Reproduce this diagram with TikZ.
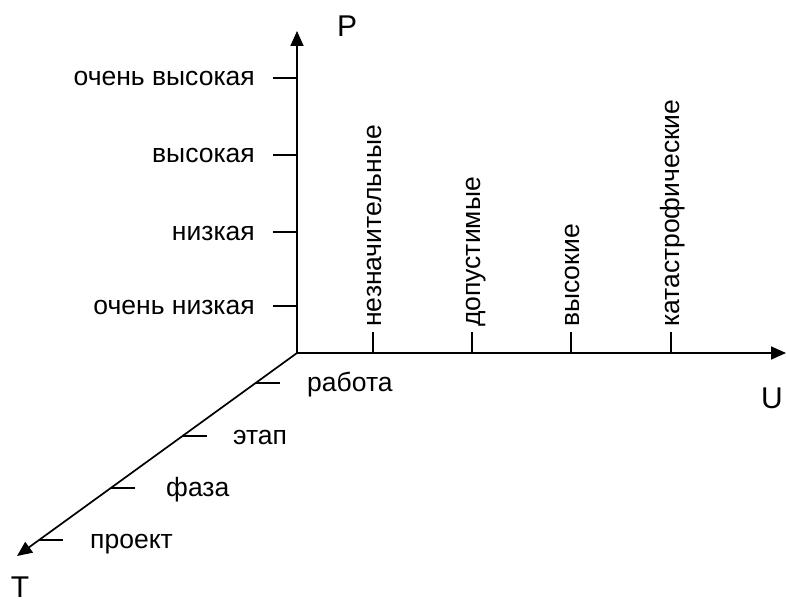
\documentclass[tikz,border=0pt]{standalone}
\usepackage{fontspec}
\setmainfont{Liberation Sans}
\usetikzlibrary{arrows.meta}
\begin{document}
\begin{tikzpicture}[x=1pt,y=-1pt,
  axis/.style={line width=1.7pt,-{Triangle[length=15pt,width=13pt]}},
  tick/.style={line width=1.4pt},
  lbl/.style={font=\fontsize{26.5}{30}\selectfont,inner sep=0pt},
  axlbl/.style={font=\fontsize{30}{34}\selectfont,inner sep=0pt}]
  \useasboundingbox (0,0) rectangle (786,604);
  % origin and axis ends
  \coordinate (O) at (297,353);
  \coordinate (Pend) at (297,31);
  \coordinate (Uend) at (786,353);
  \coordinate (Tend) at (17,556);
  \draw[axis] (O) -- (Pend);
  \draw[axis] (O) -- (Uend);
  \draw[axis] (O) -- (Tend);
  \node[axlbl,anchor=base] (P) at (347,37) {P};
  \node[axlbl,anchor=base] (U) at (772,408) {U};
  \node[axlbl,anchor=base] (T) at (20,597) {T};
  % probability scale
  \foreach \y/\t [count=\i] in {78/очень высокая,155/высокая,232/низкая,306/очень низкая}{
    \coordinate (p\i a) at (273,\y);
    \coordinate (p\i b) at (297,\y);
    \draw[tick] (p\i a) -- (p\i b);
    \node[lbl,anchor=base east] (pl\i) at (255,\y+8) {\t};
  }
  % losses scale
  \foreach \x/\t [count=\i] in {373/незначительные,472/допустимые,571/высокие,671/катастрофические}{
    \coordinate (u\i a) at (\x,353);
    \coordinate (u\i b) at (\x,332);
    \draw[tick] (u\i a) -- (u\i b);
    \node[lbl,rotate=90,anchor=base west] (ul\i) at (\x+8,327) {\t};
  }
  % time scale: ticks start on the T axis and point right
  \foreach \y/\lx/\t [count=\i] in {383/307/работа,436/233/этап,488/166/фаза,540/90/проект}{
    \pgfmathsetmacro{\tx}{297-(\y-353)/203*280}
    \coordinate (t\i a) at (\tx,\y);
    \coordinate (t\i b) at (\tx+24,\y);
    \draw[tick] (t\i a) -- (t\i b);
    \node[lbl,anchor=base west] (tl\i) at (\lx,\y+8) {\t};
  }
\end{tikzpicture}
\end{document}
